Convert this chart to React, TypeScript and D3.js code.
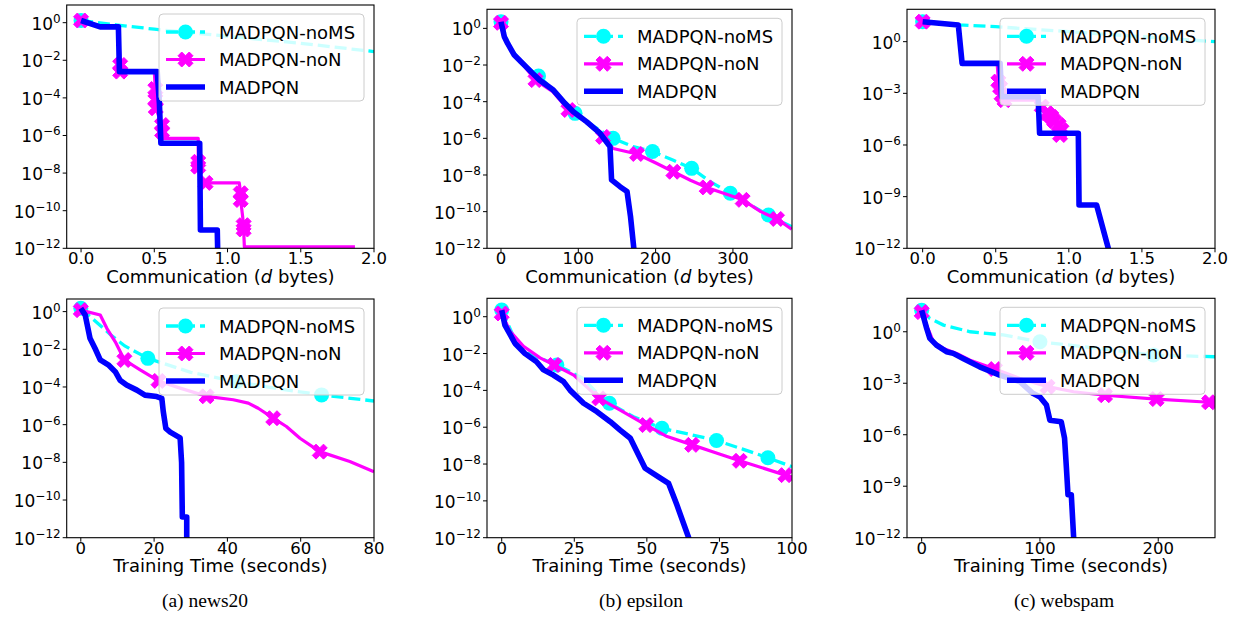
import React from "react";
import * as d3 from "d3";

type Pt = [number, number];

// ---------- news20 : communication ----------
const news20CommNoMS: Pt[] = [[0, 1.3], [0.25, 0.75], [0.5, 0.45], [1.0, 0.19], [1.5, 0.08], [2.0, 0.029]];
const news20CommNoMSMarks = [0];
const news20CommNoN: Pt[] = [
  [0, 1.3], [0.13, 0.6], [0.255, 0.6], [0.267, 5.6e-3], [0.267, 2.5e-3], [0.5, 2.5e-3],
  [0.507, 3e-4], [0.507, 8e-5], [0.51, 2.8e-5], [0.553, 3.6e-6], [0.553, 1.6e-6], [0.556, 7e-7],
  [0.8, 7e-7], [0.8, 4e-8], [0.8, 2.2e-8], [0.82, 3e-9], [0.85, 3e-9], [1.08, 3e-9],
  [1.09, 8.5e-10], [1.09, 3.7e-10], [1.11, 1.7e-11], [1.11, 1e-11], [1.115, 1.2e-12], [1.87, 1.2e-12],
];
const news20CommNoNMarks = [0, 3, 4, 6, 7, 8, 9, 10, 13, 14, 16, 18, 19, 20, 21];
const news20CommMADPQN: Pt[] = [
  [0, 1.3], [0.13, 0.6], [0.255, 0.6], [0.262, 2.5e-3], [0.52, 2.5e-3], [0.535, 5e-5],
  [0.545, 3.9e-7], [0.81, 3.9e-7], [0.815, 9.4e-12], [0.93, 9.4e-12], [0.935, 1e-13],
];

// ---------- epsilon : communication ----------
const epsilonCommNoMS: Pt[] = [
  [0, 2.3], [10, 0.12], [25, 0.015], [48.5, 2.5e-3], [70, 3.5e-4], [95.8, 2.3e-5], [120, 4.5e-6],
  [145, 1e-6], [171, 3.5e-7], [196, 1.9e-7], [223, 6.3e-8], [246.6, 2.3e-8], [270, 4.5e-9],
  [296.6, 1e-9], [320, 2.6e-10], [346, 6.6e-11], [376, 1.5e-11],
];
const epsilonCommNoMSMarks = [0, 3, 5, 7, 9, 11, 13, 15];
const epsilonCommNoN: Pt[] = [
  [0, 2.0], [3, 0.4], [8, 0.15], [17, 0.035], [26, 0.014], [44.6, 1.5e-3], [67, 3.5e-4],
  [87.3, 3.5e-5], [110, 7.5e-6], [132, 1.2e-6], [145, 2.8e-7], [176, 1.4e-7], [201, 4.4e-8],
  [223, 1.5e-8], [245, 5.2e-9], [266, 2.1e-9], [288, 1e-9], [312.6, 4.4e-10], [336, 1e-10],
  [357, 4e-11], [376, 1.1e-11],
];
const epsilonCommNoNMarks = [0, 5, 7, 9, 11, 13, 15, 17, 19];
const epsilonCommMADPQN: Pt[] = [
  [0, 2.3], [4.3, 0.35], [8.6, 0.15], [17.2, 0.035], [25.9, 0.015], [41, 3.5e-3], [50, 1.5e-3],
  [67.7, 4.3e-4], [80.7, 1e-4], [93.6, 2.8e-5], [111, 7.9e-6], [128, 1.9e-6], [141, 3.5e-7],
  [143, 5.4e-9], [154, 2.3e-9], [163, 1.26e-9], [167.5, 5.5e-11], [171.8, 1e-12], [174, 1e-13],
];

// ---------- webspam : communication ----------
const webspamCommNoMS: Pt[] = [[0, 14.5], [0.25, 9.5], [0.5, 7.4], [1.0, 3.8], [1.5, 1.95], [2.0, 1.0]];
const webspamCommNoMSMarks = [0];
const webspamCommNoN: Pt[] = [
  [0, 14.5], [0.244, 9.3], [0.27, 0.055], [0.51, 0.055], [0.518, 4.8e-3], [0.53, 2.2e-3],
  [0.54, 8e-4], [0.56, 4e-4], [0.79, 4e-4], [0.815, 1.7e-4], [0.85, 7e-5], [0.88, 4.4e-5],
  [0.9, 2.5e-5], [0.93, 1.45e-5], [0.95, 7.4e-6], [0.94, 3.8e-6],
];
const webspamCommNoNMarks = [0, 4, 5, 6, 7, 9, 10, 11, 12, 13, 14, 15];
const webspamCommMADPQN: Pt[] = [
  [0, 14.5], [0.244, 9.3], [0.27, 0.055], [0.53, 0.055], [0.54, 6.4e-4], [0.79, 6.4e-4],
  [0.8, 4.8e-6], [1.065, 4.8e-6], [1.07, 3.3e-10], [1.19, 3.3e-10], [1.27, 1e-12], [1.29, 1e-13],
];

// ---------- news20 : training time ----------
const news20TimeNoMS: Pt[] = [
  [0, 1.5], [3.6, 0.36], [8.2, 0.058], [12, 0.015], [18.3, 3.3e-3], [30, 6e-4], [42.5, 1.9e-4],
  [55, 7.5e-5], [65.7, 3.8e-5], [80, 1.8e-5],
];
const news20TimeNoMSMarks = [0, 4, 6, 8];
const news20TimeNoN: Pt[] = [
  [0, 1.2], [5.3, 0.66], [7.1, 0.13], [9.4, 0.025], [11.9, 2.7e-3], [16.2, 8e-4], [21.2, 2.1e-4],
  [27.1, 8.7e-5], [34.3, 3.2e-5], [41.6, 2.1e-5], [45.7, 1.4e-5], [48.4, 7.4e-6], [52.5, 2.2e-6],
  [56.1, 8e-7], [59.8, 1.9e-7], [65.2, 3.7e-8], [73.4, 1.1e-8], [80, 3.2e-9],
];
const news20TimeNoNMarks = [0, 4, 6, 8, 12, 15];
const news20TimeMADPQN: Pt[] = [
  [0, 1.5], [1.2, 0.66], [2.5, 0.039], [3.9, 0.011], [5.3, 2.75e-3], [7.5, 1.5e-3], [9.4, 6.5e-4],
  [10.7, 2.3e-4], [12.5, 1.26e-4], [15.3, 6.8e-5], [17.5, 3.7e-5], [20.7, 3.1e-5], [22.1, 2.5e-5],
  [22.5, 5e-6], [23.2, 6.3e-7], [24.4, 4e-7], [27.1, 2e-7], [27.5, 1e-8], [27.7, 1.26e-11],
  [28.9, 1.26e-11], [28.9, 1e-13],
];

// ---------- epsilon : training time ----------
const epsilonTimeNoMS: Pt[] = [
  [0, 2.3], [5, 0.04], [10, 9e-3], [19, 2.4e-3], [28, 4.5e-4], [33.5, 5.6e-5], [37.1, 2e-5],
  [45.4, 3.7e-6], [55.2, 8.7e-7], [65, 4e-7], [74, 1.9e-7], [83, 6.5e-8], [91.7, 2.2e-8], [100, 7.2e-9],
];
const epsilonTimeNoMSMarks = [0, 3, 6, 8, 10, 12];
const epsilonTimeNoN: Pt[] = [
  [0, 1.5], [2.9, 0.16], [7.5, 0.025], [13.2, 5.8e-3], [18.1, 2.4e-3], [24.8, 6.8e-4],
  [33.6, 3.7e-5], [40.8, 8.5e-6], [49.8, 1.3e-6], [57, 3.1e-7], [65.6, 1.1e-7], [74.2, 3.9e-8],
  [82, 1.5e-8], [97.7, 2.5e-9], [100, 2e-9],
];
const epsilonTimeNoNMarks = [0, 4, 6, 8, 10, 12, 13];
const epsilonTimeMADPQN: Pt[] = [
  [0, 2.3], [1.1, 0.35], [2.3, 0.16], [4.6, 0.035], [8, 0.01], [12, 3.6e-3], [14.4, 1.3e-3],
  [17.8, 6.8e-4], [21.3, 3e-4], [23.6, 1e-4], [28.2, 2e-5], [32.8, 7e-6], [37.4, 2e-6],
  [40.8, 7e-7], [44.3, 2.5e-7], [47.1, 3.2e-8], [49.4, 5.9e-9], [54, 2e-9], [57.5, 8.9e-10],
  [60.3, 6.3e-11], [64.4, 1e-12], [65.5, 1e-13],
];

// ---------- webspam : training time ----------
const webspamTimeNoMS: Pt[] = [
  [0, 18], [6.9, 6], [18.4, 2.45], [41, 1.0], [68.9, 0.65], [100, 0.26], [150, 0.107],
  [196, 0.044], [248, 0.035],
];
const webspamTimeNoMSMarks = [0, 5, 7];
const webspamTimeNoN: Pt[] = [
  [0, 14], [4.2, 2.45], [9.9, 0.26], [18.4, 0.107], [29.6, 0.055], [41, 0.022], [62, 6.7e-3],
  [83, 1.9e-3], [106.5, 6.3e-4], [128.5, 3.2e-4], [155, 2e-4], [198.6, 1.2e-4], [243, 7.8e-5],
  [248, 7.5e-5],
];
const webspamTimeNoNMarks = [0, 6, 8, 10, 11, 12];
const webspamTimeMADPQN: Pt[] = [
  [0, 18], [4.2, 1.6], [6.9, 0.41], [12.5, 0.166], [21, 0.069], [26.7, 0.055], [35, 0.028],
  [49, 9.1e-3], [66, 3e-3], [83, 1.23e-3], [94, 2.6e-4], [100, 1.6e-4], [105.5, 5.4e-5],
  [108.4, 7e-6], [118, 5.75e-6], [120.8, 6.3e-7], [122.4, 1.1e-8], [123.7, 3.2e-10],
  [126.5, 3.2e-10], [128.5, 1e-12], [129, 1e-13],
];

// ---------- ticks, labels ----------
const legendLabels = ["MADPQN-noMS", "MADPQN-noN", "MADPQN"];
const commTicks = [0, 0.5, 1.0, 1.5, 2.0];
const epsilonCommTicks = [0, 100, 200, 300];
const news20TimeTicks = [0, 20, 40, 60, 80];
const epsilonTimeTicks = [0, 25, 50, 75, 100];
const webspamTimeTicks = [0, 100, 200];
const yExpStep2 = [0, -2, -4, -6, -8, -10, -12];
const yExpStep3 = [0, -3, -6, -9, -12];
const captions = ["(a) news20", "(b) epsilon", "(c) webspam"];

const CYAN = "#00ffff";
const MAGENTA = "#ff00ff";
const BLUE = "#0000ff";
const SANS = "DejaVu Sans, sans-serif";

type PanelSpec = {
  id: string;
  box: [number, number, number, number]; // left, top, right, bottom
  xDomain: [number, number];
  yTopExp: number;
  xTicks: number[];
  xFmt: (v: number) => string;
  yExps: number[];
  xLabel: "comm" | "time";
  noMS: Pt[];
  noMSMarks: number[];
  noN: Pt[];
  noNMarks: number[];
  full: Pt[];
};

const f1 = d3.format(".1f");
const f0 = d3.format("d");

const panels: PanelSpec[] = [
  { id: "a1", box: [66.7, 5, 374, 248.3], xDomain: [-0.098, 2.0], yTopExp: 0.94, xTicks: commTicks, xFmt: f1, yExps: yExpStep2, xLabel: "comm",
    noMS: news20CommNoMS, noMSMarks: news20CommNoMSMarks, noN: news20CommNoN, noNMarks: news20CommNoNMarks, full: news20CommMADPQN },
  { id: "b1", box: [487, 9.3, 792, 248.3], xDomain: [-18.1, 376.4], yTopExp: 1.04, xTicks: epsilonCommTicks, xFmt: f0, yExps: yExpStep2, xLabel: "comm",
    noMS: epsilonCommNoMS, noMSMarks: epsilonCommNoMSMarks, noN: epsilonCommNoN, noNMarks: epsilonCommNoNMarks, full: epsilonCommMADPQN },
  { id: "c1", box: [907, 9.3, 1215, 248.3], xDomain: [-0.107, 2.0], yTopExp: 1.88, xTicks: commTicks, xFmt: f1, yExps: yExpStep3, xLabel: "comm",
    noMS: webspamCommNoMS, noMSMarks: webspamCommNoMSMarks, noN: webspamCommNoN, noNMarks: webspamCommNoNMarks, full: webspamCommMADPQN },
  { id: "a2", box: [66.7, 299, 374, 537.7], xDomain: [-3.85, 80], yTopExp: 0.67, xTicks: news20TimeTicks, xFmt: f0, yExps: yExpStep2, xLabel: "time",
    noMS: news20TimeNoMS, noMSMarks: news20TimeNoMSMarks, noN: news20TimeNoN, noNMarks: news20TimeNoNMarks, full: news20TimeMADPQN },
  { id: "b2", box: [487, 298.3, 792, 537.7], xDomain: [-5.07, 100], yTopExp: 1.0, xTicks: epsilonTimeTicks, xFmt: f0, yExps: yExpStep2, xLabel: "time",
    noMS: epsilonTimeNoMS, noMSMarks: epsilonTimeNoMSMarks, noN: epsilonTimeNoN, noNMarks: epsilonTimeNoNMarks, full: epsilonTimeMADPQN },
  { id: "c2", box: [907, 298.3, 1215, 537.7], xDomain: [-12.4, 248], yTopExp: 1.95, xTicks: webspamTimeTicks, xFmt: f0, yExps: yExpStep3, xLabel: "time",
    noMS: webspamTimeNoMS, noMSMarks: webspamTimeNoMSMarks, noN: webspamTimeNoN, noNMarks: webspamTimeNoNMarks, full: webspamTimeMADPQN },
];

const captionX = [205, 641, 1064];

// filled "X" marker outline (unit half-extent 2)
const X_VERTS: Pt[] = [[-1, -2], [0, -1], [1, -2], [2, -1], [1, 0], [2, 1], [1, 2], [0, 1], [-1, 2], [-2, 1], [-1, 0], [-2, -1]];
function xMarkerPath(cx: number, cy: number, size: number): string {
  const s = size / 4;
  return "M" + X_VERTS.map(([a, b]) => `${(cx + a * s).toFixed(2)},${(cy + b * s).toFixed(2)}`).join("L") + "Z";
}

const MARKER_SIZE = 15;

function Legend({ right, top }: { right: number; top: number }) {
  const w = 205;
  const h = 87;
  const left = right - 10 - w;
  const y0 = top + 9;
  return (
    <g>
      <rect x={left} y={y0} width={w} height={h} rx={4} fill="white" fillOpacity={0.8} stroke="#cccccc" strokeWidth={1} />
      {legendLabels.map((lab, i) => {
        const ry = y0 + 18 + i * 27.5;
        const x1 = left + 7;
        const x2 = left + 46;
        const mx = left + 26.5;
        return (
          <g key={lab}>
            {i === 0 && (
              <>
                <line x1={x1} x2={x2} y1={ry} y2={ry} stroke={CYAN} strokeWidth={3.3} strokeDasharray="12,5" />
                <circle cx={mx} cy={ry} r={MARKER_SIZE / 2} fill={CYAN} />
              </>
            )}
            {i === 1 && (
              <>
                <line x1={x1} x2={x2} y1={ry} y2={ry} stroke={MAGENTA} strokeWidth={3.2} />
                <path d={xMarkerPath(mx, ry, MARKER_SIZE)} fill={MAGENTA} stroke={MAGENTA} strokeWidth={1} />
              </>
            )}
            {i === 2 && <line x1={x1} x2={x2} y1={ry} y2={ry} stroke={BLUE} strokeWidth={5.6} />}
            <text x={left + 60} y={ry + 6.5} fontFamily={SANS} fontSize={18} fill="#000">
              {lab}
            </text>
          </g>
        );
      })}
    </g>
  );
}

function Panel({ p }: { p: PanelSpec }) {
  const [left, top, right, bottom] = p.box;
  const x = d3.scaleLinear().domain(p.xDomain).range([left, right]);
  const y = d3.scaleLog().domain([1e-12, Math.pow(10, p.yTopExp)]).range([bottom, top]);
  const line = d3.line<Pt>().x((d) => x(d[0])).y((d) => y(d[1]));
  const clipId = `clip-${p.id}`;
  return (
    <g>
      <defs>
        <clipPath id={clipId}>
          <rect x={left} y={top} width={right - left} height={bottom - top} />
        </clipPath>
      </defs>
      <g clipPath={`url(#${clipId})`}>
        <path d={line(p.noMS) ?? ""} fill="none" stroke={CYAN} strokeWidth={3.3} strokeDasharray="12,5" />
        {p.noMSMarks.map((i) => (
          <circle key={`c${i}`} cx={x(p.noMS[i][0])} cy={y(p.noMS[i][1])} r={MARKER_SIZE / 2} fill={CYAN} />
        ))}
        <path d={line(p.noN) ?? ""} fill="none" stroke={MAGENTA} strokeWidth={3.2} strokeLinejoin="round" />
        {p.noNMarks.map((i) => (
          <path key={`x${i}`} d={xMarkerPath(x(p.noN[i][0]), y(p.noN[i][1]), MARKER_SIZE)} fill={MAGENTA} stroke={MAGENTA} strokeWidth={1} />
        ))}
        <path d={line(p.full) ?? ""} fill="none" stroke={BLUE} strokeWidth={5.6} strokeLinejoin="round" />
      </g>
      <rect x={left} y={top} width={right - left} height={bottom - top} fill="none" stroke="#000" strokeWidth={1.1} />
      {p.xTicks.map((t) => (
        <g key={`xt${t}`}>
          <line x1={x(t)} x2={x(t)} y1={bottom} y2={bottom + 4} stroke="#000" strokeWidth={1} />
          <text x={x(t)} y={bottom + 16} textAnchor="middle" fontFamily={SANS} fontSize={16.5} fill="#000">
            {p.xFmt(t)}
          </text>
        </g>
      ))}
      {p.yExps.map((e) => {
        const yy = y(Math.pow(10, e));
        return (
          <g key={`yt${e}`}>
            <line x1={left - 4} x2={left} y1={yy} y2={yy} stroke="#000" strokeWidth={1} />
            <text x={left - 6} y={yy + 7} textAnchor="end" fontFamily={SANS} fontSize={17} fill="#000">
              10
              <tspan dy={-7} fontSize={12}>
                {e === 0 ? "0" : `\u2212${-e}`}
              </tspan>
            </text>
          </g>
        );
      })}
      <text x={(left + right) / 2} y={bottom + 34.5} textAnchor="middle" fontFamily={SANS} fontSize={18} fill="#000">
        {p.xLabel === "comm" ? (
          <>
            Communication (<tspan fontStyle="italic">d</tspan> bytes)
          </>
        ) : (
          "Training Time (seconds)"
        )}
      </text>
      <Legend right={right} top={top} />
    </g>
  );
}

export default function App() {
  return (
    <svg
      width={1233}
      height={626}
      viewBox="0 0 1233 626"
      style={{ position: "absolute", left: 0, top: 0, background: "#fff" }}
    >
      <rect x={0} y={0} width={1233} height={626} fill="#fff" />
      {panels.map((p) => (
        <Panel key={p.id} p={p} />
      ))}
      {captions.map((c, i) => (
        <text key={c} x={captionX[i]} y={607} textAnchor="middle" fontFamily="Liberation Serif, serif" fontSize={19.5} fill="#000">
          {c}
        </text>
      ))}
    </svg>
  );
}
